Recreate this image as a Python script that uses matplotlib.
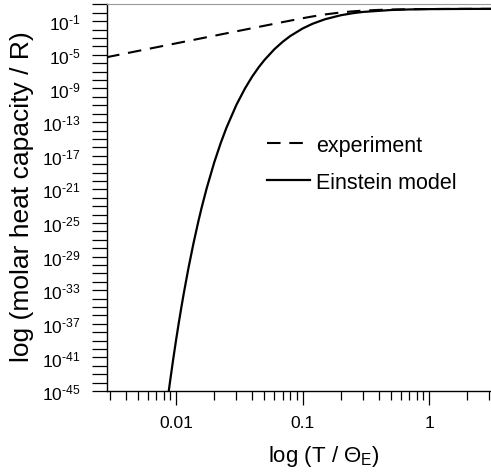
import numpy as np
import matplotlib
matplotlib.use("Agg")
import matplotlib.pyplot as plt
from matplotlib import ticker

plt.rcParams['font.family'] = ['Liberation Sans', 'DejaVu Sans']
plt.rcParams['mathtext.fontset'] = 'custom'
plt.rcParams['mathtext.rm'] = 'Liberation Sans'
plt.rcParams['mathtext.it'] = 'Liberation Sans:italic'

# reduced temperature T / Theta_E and molar heat capacity / R
einstein_t = [0.0087, 0.009, 0.0095, 0.01, 0.0105, 0.011, 0.0115, 0.0125, 0.0137,
              0.015, 0.016, 0.0175, 0.02, 0.0225, 0.025, 0.03, 0.035, 0.04, 0.045,
              0.05, 0.06, 0.07, 0.08, 0.1, 0.12, 0.15, 0.2, 0.25, 0.3, 0.5, 0.7,
              1.0, 2.0, 3.2]
einstein_c = [4.79e-46, 2.04e-44, 6.46e-42, 1.12e-39, 1.18e-37, 8.13e-36, 3.89e-34,
              3.47e-31, 3.16e-28, 1.48e-25, 8.5e-24, 1.48e-21, 1.45e-18, 2.95e-16,
              2.04e-14, 1.12e-11, 9.55e-10, 2.63e-8, 3.31e-7, 2.45e-6, 4.79e-5,
              3.80e-4, 1.74e-3, 1.36e-2, 5.00e-2, 0.170, 0.512, 0.912, 1.279, 2.172,
              2.538, 2.762, 2.938, 2.976]

experiment_t = [0.0028, 0.005, 0.01, 0.02, 0.03, 0.05, 0.07, 0.1, 0.12, 0.15, 0.2,
                0.25, 0.3, 0.4, 0.5, 0.7, 1.0, 2.0, 3.2]
experiment_c = [5.1e-6, 2.92e-5, 2.34e-4, 1.87e-3, 6.31e-3, 2.92e-2, 8.0e-2, 0.228,
                0.373, 0.639, 1.106, 1.51, 1.83, 2.235, 2.47, 2.709, 2.855, 2.963,
                2.985]

x_tick_labels = ['0.01', '0.1', '1']
y_label_exponents = list(range(-45, 0, 4))


def exp_label(v, pos):
    e = int(round(np.log10(v)))
    return '$10^{\\text{-}%d}$' % abs(e)


fig = plt.figure(figsize=(4.91, 4.77), dpi=100)
ax = fig.add_axes([0.2173, 0.178, 0.7827, 0.812])

ax.plot(experiment_t, experiment_c, color='black', lw=1.5, dashes=(6.5, 4.2),
        label='experiment')
ax.plot(einstein_t, einstein_c, color='black', lw=1.6, label='Einstein model')

ax.set_xscale('log')
ax.set_yscale('log')
ax.set_xlim(0.00283, 3.09)
ax.set_ylim(1e-45, 12)

ax.xaxis.set_major_locator(ticker.FixedLocator([0.01, 0.1, 1]))
ax.xaxis.set_major_formatter(ticker.FixedFormatter(x_tick_labels))
ax.xaxis.set_minor_locator(ticker.LogLocator(base=10, subs=np.arange(2, 10), numticks=20))
ax.xaxis.set_minor_formatter(ticker.NullFormatter())

ax.yaxis.set_major_locator(ticker.FixedLocator(10.0 ** np.array(y_label_exponents, dtype=float)))
ax.yaxis.set_major_formatter(ticker.FuncFormatter(exp_label))
ax.yaxis.set_minor_locator(ticker.FixedLocator(10.0 ** np.arange(-45, 2)))
ax.yaxis.set_minor_formatter(ticker.NullFormatter())

ax.tick_params(axis='x', which='major', direction='out', length=10, width=0.9, pad=7,
               labelsize=12.5)
ax.tick_params(axis='x', which='minor', direction='out', length=6.5, width=0.9)
ax.tick_params(axis='y', which='both', direction='out', length=11, width=0.9, pad=8,
               labelsize=12.5)

ax.spines['right'].set_visible(False)
ax.spines['top'].set_color('#9a9a9a')
ax.spines['left'].set_linewidth(1.0)
ax.spines['bottom'].set_linewidth(1.0)

ax.set_xlabel('log (T / Θ$_\\mathrm{E}$)', fontsize=16)
ax.xaxis.set_label_coords(0.565, -0.135)
ax.set_ylabel('log (molar heat capacity / R)', fontsize=19)
ax.yaxis.set_label_coords(-0.19, 0.505)

ax.legend(loc='center left', bbox_to_anchor=(0.417, 0.587), frameon=False,
          fontsize=15.5, handlelength=2.0, handletextpad=0.3, labelspacing=0.75,
          borderpad=0, borderaxespad=0)

fig.savefig('out.png', dpi=100)
